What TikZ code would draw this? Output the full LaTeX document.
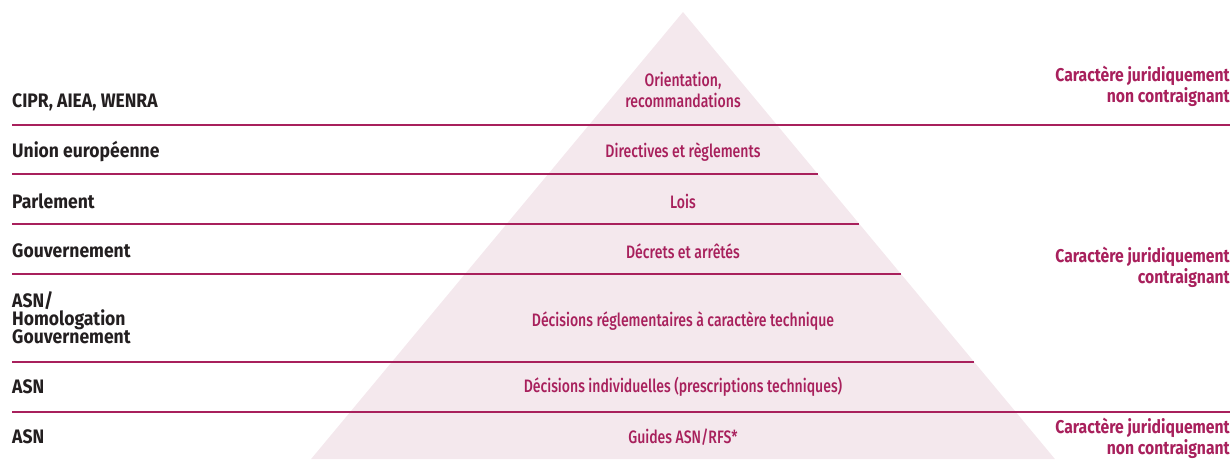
\documentclass[tikz,border=0pt]{standalone}
\usepackage{fontspec}
\setmainfont{Fira Sans}
\newfontfamily\rowfont[FakeStretch=0.9]{Fira Sans}
\newfontfamily\levelfont[FakeStretch=0.78]{Fira Sans Medium}
\newfontfamily\naturefont[FakeStretch=0.85]{Fira Sans}
\usetikzlibrary{math}
\definecolor{asnred}{RGB}{168,32,92}
\definecolor{pyrpink}{RGB}{244,232,237}
\definecolor{inkblack}{RGB}{35,31,32}

\begin{document}
\begin{tikzpicture}[x=1pt,y=-1pt,
    rowlabel/.style={anchor=west, text=inkblack, font=\rowfont\fontsize{19.5}{16}\selectfont\bfseries, align=left, inner sep=0pt},
    levellabel/.style={text=asnred, font=\levelfont\fontsize{18}{21}\selectfont, align=center, inner sep=0pt},
    naturelabel/.style={anchor=east, text=asnred, font=\naturefont\fontsize{18.5}{21}\selectfont\bfseries, align=right, inner sep=0pt},
    sepline/.style={draw=asnred, line width=2pt}]
  \tikzmath{\ax = 683; \ay = 12; \sl = 0.832; \by = 459; \bw = \sl*(\by-\ay);}
  \useasboundingbox (0,0) rectangle (1232,459);
  % pyramid
  \fill[pyrpink] (\ax,\ay) -- (\ax+\bw,\by) -- (\ax-\bw,\by) -- cycle;
  % separators
  \draw[sepline] (12,125) -- (1230,125);
  \foreach \yy in {174,224,274,362}
    \draw[sepline] (12,\yy) -- ({\ax+\sl*(\yy-\ay)},\yy);
  \draw[sepline] (12,412) -- (1230,412);
  % left: issuers
  \node[rowlabel] (cipr) at (12,102) {CIPR, AIEA, WENRA};
  \node[rowlabel] (ue) at (12,152) {Union européenne};
  \node[rowlabel] (parl) at (12,201) {Parlement};
  \node[rowlabel] (gouv) at (12,251) {Gouvernement};
  \node[rowlabel] (homol) at (12,318) {ASN/\\[-1pt]Homologation\\[-1pt]Gouvernement};
  \node[rowlabel] (asna) at (12,387) {ASN};
  \node[rowlabel] (asnb) at (12,437) {ASN};
  % middle: texts
  \node[levellabel] (orient) at (\ax,90) {Orientation,\\recommandations};
  \node[levellabel] (direc) at (\ax,152) {Directives et règlements};
  \node[levellabel] (lois) at (\ax,201) {Lois};
  \node[levellabel] (decr) at (\ax,251) {Décrets et arrêtés};
  \node[levellabel] (dreg) at (\ax,321) {Décisions réglementaires à caractère technique};
  \node[levellabel] (dind) at (\ax,387) {Décisions individuelles (prescriptions techniques)};
  \node[levellabel] (guid) at (\ax,437) {Guides ASN/RFS*};
  % right: legal force
  \node[naturelabel] (nca) at (1230,86) {Caractère juridiquement\\non contraignant};
  \node[naturelabel] (ctr) at (1230,267) {Caractère juridiquement\\contraignant};
  \node[naturelabel] (ncb) at (1230,438) {Caractère juridiquement\\non contraignant};
\end{tikzpicture}
\end{document}
